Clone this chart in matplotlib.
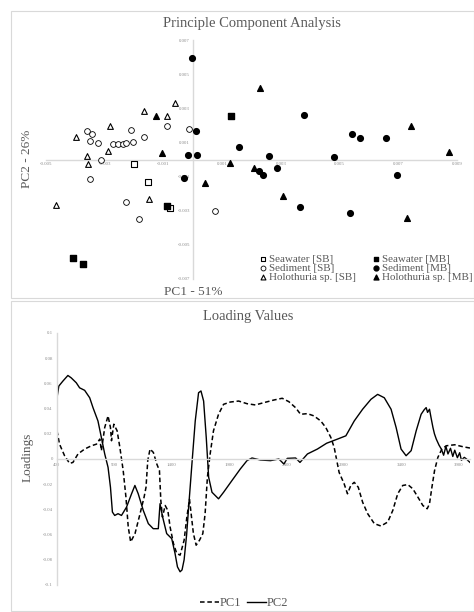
import matplotlib
matplotlib.use("Agg")
import matplotlib.pyplot as plt
from matplotlib.patches import Rectangle

plt.rcParams["font.family"] = ["Liberation Serif", "DejaVu Serif"]

# ---- PCA scores (PC1, PC2) ----
seawater_sb_x = [-0.00201, -0.00151, -0.00079]
seawater_sb_y = [-0.00025, -0.00129, -0.00284]
seawater_mb_x = [0.00129, -0.00087, -0.00409, -0.00373]
seawater_mb_y = [0.00255, -0.00270, -0.00578, -0.00614]

sediment_sb_x = [-0.00088, -0.00013, -0.00360, -0.00343, -0.00212, -0.00349,
                 -0.00322, -0.00271, -0.00256, -0.00237, -0.00226, -0.00202,
                 -0.00167, -0.00312, -0.00349, -0.00229, 0.00075, -0.00184]
sediment_sb_y = [0.00194, 0.00176, 0.00165, 0.00151, 0.00172, 0.00110,
                 0.00096, 0.00088, 0.00088, 0.00088, 0.00098, 0.00104,
                 0.00131, 0.00000, -0.00114, -0.00251, -0.00300, -0.00349]
sediment_mb_x = [-0.00003, 0.00378, 0.00012, 0.00543, 0.00570, 0.00657,
                 0.00159, -0.00015, 0.00015, 0.00258, 0.00481, 0.00225,
                 0.00239, 0.00286, -0.00030, 0.00696, 0.00364, 0.00535]
sediment_mb_y = [0.00596, 0.00259, 0.00165, 0.00147, 0.00125, 0.00125,
                 0.00072, 0.00028, 0.00028, 0.00022, 0.00014, -0.00069,
                 -0.00090, -0.00049, -0.00108, -0.00090, -0.00281, -0.00314]

holo_sb_x = [-0.00062, -0.00167, -0.00087, -0.00281, -0.00398, -0.00290,
             -0.00360, -0.00356, -0.00148, -0.00466]
holo_sb_y = [0.00333, 0.00284, 0.00255, 0.00194, 0.00129, 0.00047,
             0.00018, -0.00029, -0.00231, -0.00265]
holo_mb_x = [0.00228, -0.00127, 0.00745, -0.00104, 0.00873, 0.00126,
             0.00208, 0.00042, 0.00308, 0.00728]
holo_mb_y = [0.00420, 0.00255, 0.00194, 0.00037, 0.00043, -0.00019,
             -0.00049, -0.00139, -0.00216, -0.00345]

pca_ticks = [-0.007, -0.005, -0.003, -0.001, 0.001, 0.003, 0.005, 0.007, 0.009]

# ---- Loadings vs wavenumber ----
pc1_wn = [400, 422, 466, 510, 539, 583, 641, 700, 744, 773, 787, 816, 845,
          866, 875, 895, 924, 948, 977, 1001, 1021, 1042, 1080, 1124, 1159,
          1176, 1191, 1211, 1240, 1270, 1293, 1305, 1319, 1343, 1366, 1386,
          1415, 1444, 1473, 1508, 1532, 1555, 1589, 1613, 1642, 1671, 1691,
          1711, 1735, 1764, 1808, 1852, 1910, 1983, 2056, 2129, 2202, 2290,
          2363, 2421, 2480, 2523, 2583, 2640, 2699, 2743, 2787, 2816, 2839,
          2859, 2903, 2932, 2961, 2991, 3026, 3064, 3108, 3166, 3224, 3283,
          3327, 3370, 3414, 3458, 3502, 3546, 3589, 3627, 3647, 3668, 3691,
          3720, 3755, 3793, 3867, 3940, 4000]
pc1_val = [0.0224, 0.0118, 0.0026, -0.0035, -0.0027, 0.0040, 0.0079, 0.0105,
           0.0118, 0.0158, 0.0066, 0.0250, 0.0342, 0.0250, 0.0145, 0.0276,
           0.0224, 0.0092, -0.0092, -0.0303, -0.0540, -0.0658, -0.0592,
           -0.0434, -0.0303, -0.0224, -0.0013, 0.0079, 0.0052, -0.0040,
           -0.0092, -0.0329, -0.0461, -0.0369, -0.0408, -0.0540, -0.0671,
           -0.0750, -0.0763, -0.0645, -0.0461, -0.0320, -0.0592, -0.0684,
           -0.0645, -0.0592, -0.0434, -0.0145, 0.0040, 0.0224, 0.0355,
           0.0434, 0.0452, 0.0460, 0.0439, 0.0429, 0.0447, 0.0468, 0.0482,
           0.0455, 0.0407, 0.0355, 0.0360, 0.0342, 0.0302, 0.0250, 0.0171,
           0.0092, -0.0013, -0.0106, -0.0197, -0.0276, -0.0210, -0.0185,
           -0.0224, -0.0343, -0.0434, -0.0513, -0.0532, -0.0500, -0.0408,
           -0.0276, -0.0210, -0.0203, -0.0237, -0.0303, -0.0369, -0.0395,
           -0.0355, -0.0224, -0.0092, 0.0013, 0.0079, 0.0105, 0.0113, 0.0097,
           0.0087]

pc2_wn = [400, 416, 451, 495, 524, 568, 597, 641, 685, 714, 757, 787, 816,
          845, 866, 883, 903, 932, 962, 1006, 1050, 1079, 1108, 1152, 1196,
          1239, 1283, 1298, 1321, 1356, 1400, 1429, 1450, 1473, 1490, 1508,
          1530, 1546, 1576, 1605, 1634, 1655, 1678, 1701, 1722, 1751, 1808,
          1852, 1925, 1998, 2056, 2100, 2173, 2261, 2334, 2378, 2407, 2480,
          2518, 2583, 2670, 2750, 2845, 2918, 2991, 3064, 3137, 3195, 3253,
          3312, 3356, 3399, 3443, 3487, 3531, 3574, 3600, 3618, 3630, 3647,
          3660, 3677, 3690, 3706, 3730, 3750, 3770, 3790, 3808, 3830, 3850,
          3867, 3890, 3910, 3925, 3950, 3970, 3985, 4000]
pc2_val = [0.0486, 0.0579, 0.0618, 0.0663, 0.0644, 0.0605, 0.0565, 0.0545,
           0.0486, 0.0407, 0.0302, 0.0170, 0.0040, -0.0066, -0.0224, -0.0421,
           -0.0448, -0.0434, -0.0448, -0.0382, -0.0276, -0.0210, -0.0276,
           -0.0408, -0.0513, -0.0553, -0.0553, -0.0355, -0.0461, -0.0592,
           -0.0632, -0.0750, -0.0856, -0.0895, -0.0880, -0.0800, -0.0600,
           -0.0400, -0.0040, 0.0302, 0.0526, 0.0540, 0.0460, 0.0170, -0.0145,
           -0.0264, -0.0316, -0.0264, -0.0171, -0.0079, -0.0013, 0.0008,
           -0.0008, -0.0013, 0.0000, -0.0040, 0.0005, 0.0008, -0.0027, 0.0040,
           0.0079, 0.0125, 0.0158, 0.0184, 0.0302, 0.0395, 0.0474, 0.0513,
           0.0486, 0.0395, 0.0250, 0.0079, 0.0026, 0.0066, 0.0224, 0.0355,
           0.0390, 0.0408, 0.0370, 0.0395, 0.0330, 0.0250, 0.0200, 0.0158,
           0.0110, 0.0079, 0.0030, 0.0100, 0.0040, 0.0085, 0.0020, 0.0070,
           0.0010, 0.0050, -0.0010, 0.0013, 0.0000, -0.0015, -0.0027]

load_yticks = [-0.1, -0.08, -0.06, -0.04, -0.02, 0, 0.02, 0.04, 0.06, 0.08, 0.1]
load_xticks = [400, 900, 1400, 1900, 2400, 2900, 3400, 3900]

W, H = 474, 612
GRID = "#d9d9d9"
TXT = "#595959"
TICK = "#8c8c8c"


def fx(px):
    return px / W


def fy(py):
    return 1 - py / H


fig = plt.figure(figsize=(W / 100, H / 100), dpi=100)

# chart frames like the Excel chart areas
for top, bot in [(11, 298), (301, 611)]:
    fig.add_artist(Rectangle((fx(11), fy(bot)), fx(W) - fx(11), fy(top) - fy(bot),
                             transform=fig.transFigure, fill=False, ec=GRID, lw=0.8))

# ---------------- PCA scatter ----------------
ax1 = fig.add_axes([fx(46), fy(279), fx(457) - fx(46), fy(40) - fy(279)])
ax1.set_xlim(-0.005, 0.009)
ax1.set_ylim(-0.007, 0.007)
for s in ["top", "right"]:
    ax1.spines[s].set_visible(False)
ax1.spines["left"].set_position(("data", 0))
ax1.spines["bottom"].set_position(("data", 0))
for s in ["left", "bottom"]:
    ax1.spines[s].set_color(GRID)
    ax1.spines[s].set_linewidth(1.0)
ax1.set_xticks([t for t in pca_ticks if t >= -0.005])
ax1.set_yticks([t for t in pca_ticks if t <= 0.007])
ax1.set_xticklabels([f"{t:g}" for t in pca_ticks if t >= -0.005])
ax1.set_yticklabels([f"{t:g}" for t in pca_ticks if t <= 0.007])
ax1.tick_params(length=0, labelsize=3.5, colors=TICK, pad=2)
ax1.patch.set_alpha(0)

ms = 17
ax1.scatter(seawater_sb_x, seawater_sb_y, marker="s", s=ms, facecolors="white",
            edgecolors="black", linewidths=0.8, label="Seawater [SB]", zorder=3)
ax1.scatter(sediment_sb_x, sediment_sb_y, marker="o", s=ms, facecolors="white",
            edgecolors="black", linewidths=0.6, label="Sediment [SB]", zorder=3)
ax1.scatter(holo_sb_x, holo_sb_y, marker="^", s=ms, facecolors="white",
            edgecolors="black", linewidths=0.8, label="Holothuria sp. [SB]", zorder=3)
ax1.scatter(seawater_mb_x, seawater_mb_y, marker="s", s=ms, color="black",
            label="Seawater [MB]", zorder=4)
ax1.scatter(sediment_mb_x, sediment_mb_y, marker="o", s=ms, color="black",
            label="Sediment [MB]", zorder=4)
ax1.scatter(holo_mb_x, holo_mb_y, marker="^", s=ms, color="black",
            label="Holothuria sp. [MB]", zorder=4)

fig.legend(*ax1.get_legend_handles_labels(), loc="center",
           bbox_to_anchor=(fx(366), fy(268)), ncol=2, frameon=False,
           fontsize=7.9, handlelength=0.6, handletextpad=0.25,
           columnspacing=1.5, labelspacing=-0.05, markerscale=0.85,
           labelcolor=TXT, borderpad=0.2)

fig.text(fx(252), fy(23), "Principle Component Analysis", ha="center",
         va="center", fontsize=10.5, color=TXT)
fig.text(fx(193), fy(292), "PC1 - 51%", ha="center", va="center",
         fontsize=9.5, color=TXT)
fig.text(fx(27), fy(159), "PC2 - 26%", ha="center", va="center",
         rotation=90, fontsize=9.5, color=TXT)

# ---------------- Loading values ----------------
ax2 = fig.add_axes([fx(57), fy(585), fx(470) - fx(57), fy(333) - fy(585)])
ax2.plot(pc1_wn, pc1_val, color="black", lw=1.1, ls=(0, (3, 1.8)), label="PC1")
ax2.plot(pc2_wn, pc2_val, color="black", lw=1.0, label="PC2")
ax2.set_xlim(400, 4000)
ax2.set_ylim(-0.1, 0.1)
for s in ["top", "right"]:
    ax2.spines[s].set_visible(False)
ax2.spines["bottom"].set_position(("data", 0))
for s in ["left", "bottom"]:
    ax2.spines[s].set_color(GRID)
    ax2.spines[s].set_linewidth(1.0)
ax2.set_xticks(load_xticks)
ax2.set_yticks(load_yticks)
ax2.set_yticklabels([f"{t:g}" for t in load_yticks])
ax2.tick_params(length=0, labelsize=3.5, colors=TICK, pad=3)
ax2.patch.set_alpha(0)

fig.legend(*ax2.get_legend_handles_labels(), loc="center",
           bbox_to_anchor=(fx(244), fy(603)), ncol=2, frameon=False,
           fontsize=9, handlelength=1.5, handletextpad=0.05,
           columnspacing=0.5, labelcolor=TXT)

fig.text(fx(248), fy(316), "Loading Values", ha="center", va="center",
         fontsize=10.5, color=TXT)
fig.text(fx(28), fy(457), "Loadings", ha="center", va="center",
         rotation=90, fontsize=9.5, color=TXT)

fig.savefig("out.png", dpi=100)
